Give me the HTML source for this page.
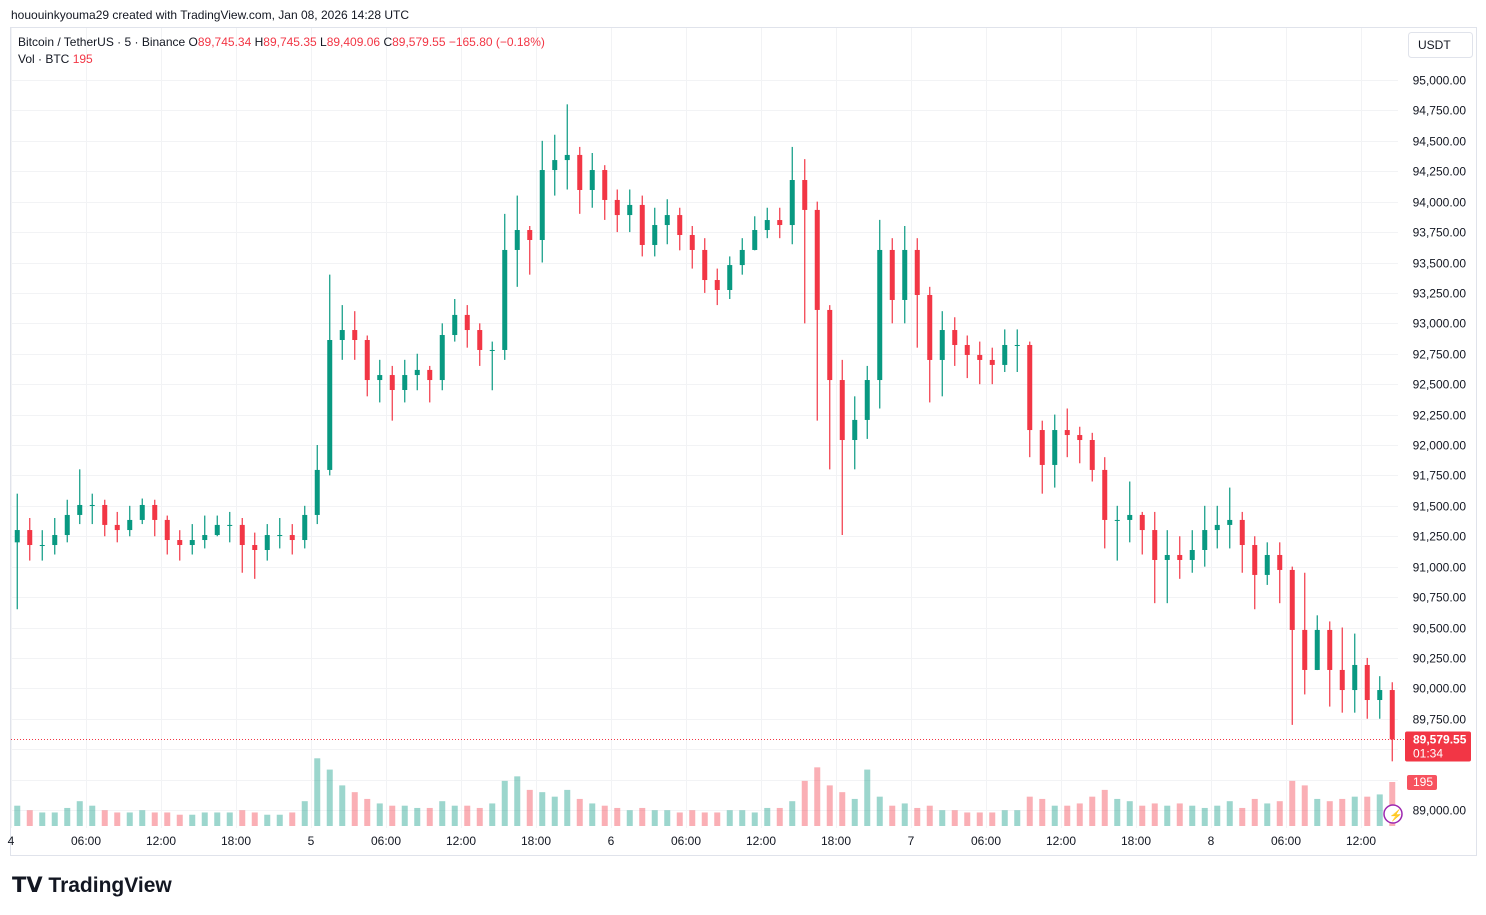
<!DOCTYPE html>
<html><head><meta charset="utf-8">
<style>
body{margin:0;background:#fff;font-family:"Liberation Sans",sans-serif;}
#wrap{position:relative;width:1486px;height:915px;overflow:hidden;background:#fff;}
svg text{font-family:"Liberation Sans",sans-serif;}
</style></head>
<body>
<div id="wrap">
<svg id="svg" width="1486" height="915" xmlns="http://www.w3.org/2000/svg">
<text x="11" y="19" font-size="12" fill="#131722">hououinkyouma29 created with TradingView.com, Jan 08, 2026 14:28 UTC</text>
<rect x="10.5" y="27.5" width="1466" height="828" fill="none" stroke="#e0e3eb"/>
<g id="grid"></g>
<g id="vol"></g>
<g id="candles"></g>
<g id="yaxis"></g>
<g id="xaxis"></g>
<text x="18" y="46" font-size="12" fill="#131722">Bitcoin / TetherUS · 5 · Binance <tspan fill="#131722">O</tspan><tspan fill="#f23645">89,745.34</tspan>  <tspan fill="#131722">H</tspan><tspan fill="#f23645">89,745.35</tspan>  <tspan fill="#131722">L</tspan><tspan fill="#f23645">89,409.06</tspan>  <tspan fill="#131722">C</tspan><tspan fill="#f23645">89,579.55  −165.80 (−0.18%)</tspan></text>
<text x="18" y="63" font-size="12" fill="#131722">Vol · BTC  <tspan fill="#f23645">195</tspan></text>
<rect x="1408.5" y="32.5" width="64" height="25" rx="3" fill="#fff" stroke="#e0e3eb"/>
<text x="1418" y="49" font-size="12" fill="#131722">USDT</text>
<text x="12" y="892" font-size="21" font-weight="bold" fill="#131722">𝗧𝗩 TradingView</text>
<circle cx="1393" cy="814" r="9" fill="#fff" stroke="#9c27b0" stroke-width="1.5"/>
<text x="1389" y="819" font-size="11" fill="#9c27b0">⚡</text>
</svg>
</div>
<script>
const closes=[91301,91178,91178,91260,91425,91507,91507,91343,91301,91384,91507,91384,91219,91178,91219,91260,91343,91343,91178,91137,91260,91260,91219,91425,
91795,92863,92945,92863,92534,92575,92452,92575,92617,92534,92904,93069,92945,92781,92781,93603,93767,93685,94260,94342,94384,94096,94260,94014,
93890,93973,93644,93808,93890,93726,93603,93356,93274,93479,93603,93767,93849,93808,94178,93932,93110,92534,92041,92206,92534,93603,93192,93603,
93233,92699,92945,92822,92740,92699,92658,92822,92822,92123,91836,92123,92082,92041,91795,91384,91384,91425,91301,91055,91096,91055,91137,91301,
91343,91384,91178,90932,91096,90973,90480,90151,90480,90151,89986,90192,89904,89986,89580];
const highs=[91600,91400,91300,91400,91550,91800,91600,91550,91450,91500,91560,91550,91420,91300,91350,91420,91420,91450,91400,91280,91350,91400,91350,91500,
92000,93400,93150,93100,92900,92700,92650,92700,92750,92650,93000,93200,93150,93000,92850,93900,94050,93800,94500,94550,94800,94450,94400,94300,
94100,94100,94050,93950,94020,93950,93800,93700,93450,93550,93700,93880,93950,93950,94450,94350,94000,93150,92700,92400,92650,93850,93700,93800,
93700,93300,93100,93050,92900,92850,92800,92950,92950,92850,92200,92250,92300,92150,92100,91900,91500,91700,91450,91450,91300,91250,91300,91500,
91500,91650,91450,91250,91200,91200,91000,90950,90600,90550,90500,90450,90250,90100,90050];
const lows=[90650,91050,91050,91100,91200,91350,91350,91250,91200,91250,91350,91250,91100,91050,91100,91150,91250,91200,90950,90900,91050,91150,91100,91150,
91350,91750,92700,92700,92400,92350,92200,92350,92450,92350,92450,92850,92800,92650,92450,92700,93300,93400,93500,94050,94100,93900,93950,93850,
93750,93750,93550,93550,93650,93600,93450,93250,93150,93200,93400,93600,93700,93700,93650,93000,92200,91800,91260,91800,92050,92300,93000,93000,
92800,92350,92400,92650,92550,92500,92500,92600,92600,91900,91600,91650,91900,91850,91700,91150,91050,91200,91100,90700,90700,90900,90950,91000,
91150,91150,90950,90650,90850,90700,89700,89950,90150,89850,89800,89800,89750,89750,89400];
const volumes=[90,70,60,60,80,110,90,70,60,60,70,60,60,50,50,60,60,60,70,60,50,50,60,110,
300,250,180,150,120,100,90,90,80,80,110,90,90,80,100,200,220,160,150,130,160,120,100,90,
80,70,80,70,70,60,70,60,60,70,70,60,80,80,110,200,260,180,150,120,250,130,90,100,
80,90,70,70,60,60,60,70,70,130,120,90,90,100,130,160,120,110,90,100,90,100,90,80,
90,110,80,120,100,110,200,180,120,110,120,130,130,140,195];
const firstOpen=91200;
const priceTicks=[95000,94750,94500,94250,94000,93750,93500,93250,93000,92750,92500,92250,92000,91750,91500,91250,91000,90750,90500,90250,90000,89750,89500,89250,89000];
const timeLabels=["4","06:00","12:00","18:00","5","06:00","12:00","18:00","6","06:00","12:00","18:00","7","06:00","12:00","18:00","8","06:00","12:00"];
const lastPrice=89579.55;

const NS="http://www.w3.org/2000/svg";
const yOf=p=>80+(95000-p)*730/6000;
const xOf=i=>11+12.5*i+6.25;
const vY=v=>826-v*44/195;
function mk(tag,attrs,parent){const e=document.createElementNS(NS,tag);for(const k in attrs)e.setAttribute(k,attrs[k]);parent.appendChild(e);return e;}
const grid=document.getElementById('grid'),yax=document.getElementById('yaxis'),xax=document.getElementById('xaxis');
priceTicks.forEach(p=>{
  const y=Math.round(yOf(p))+0.5;
  const l=mk('line',{x1:11,x2:1398,y1:y,y2:y,stroke:'#f2f3f5'},grid);
  
  
  if(p===89250||p===89500) return;
  const t=mk('text',{x:1466,y:y+4,'font-size':12,fill:'#131722','text-anchor':'end'},yax);
  t.textContent=p.toLocaleString('en-US',{minimumFractionDigits:2});
  
  
});
timeLabels.forEach((s,k)=>{
  const x=11+75*k;
  const l=mk('line',{x1:x+0.5,x2:x+0.5,y1:28,y2:828,stroke:'#f2f3f5'},grid);
  
  
  const t=mk('text',{x:x,y:845,'font-size':12,fill:'#131722','text-anchor':'middle'},xax);
  t.textContent=s;
  
  
});
const vg=document.getElementById('vol'),cg=document.getElementById('candles');
closes.forEach((c,i)=>{
  const o=i===0?firstOpen:closes[i-1];
  const up=c>=o;const col=up?'#089981':'#f23645';
  const x=xOf(i);
  const vb=mk('rect',{x:x-3,y:vY(volumes[i]),width:6,height:826-vY(volumes[i]),fill:up?'rgba(8,153,129,0.4)':'rgba(242,54,69,0.4)'},vg);
  
  
  const w=mk('line',{x1:x,x2:x,y1:yOf(highs[i]),y2:yOf(lows[i]),stroke:col,'stroke-width':1.2},cg);
  
  
  const top=yOf(Math.max(o,c)),bot=yOf(Math.min(o,c));
  const b=mk('rect',{x:x-2.5,y:top,width:5,height:Math.max(1,bot-top),fill:col},cg);
  
  
});
const ly=Math.round(yOf(lastPrice))+0.5;
const pl=mk('line',{x1:11,x2:1404,y1:ly,y2:ly,stroke:'#f23645','stroke-dasharray':'1 2'},yax);


const pb=mk('rect',{x:1405,y:ly-8,width:66,height:30,rx:2,fill:'#f23645'},yax);


const pt=mk('text',{x:1413,y:ly+4,'font-size':12,fill:'#fff','font-weight':'bold'},yax);
pt.textContent=lastPrice.toLocaleString('en-US',{minimumFractionDigits:2});


const ct=mk('text',{x:1413,y:ly+18,'font-size':12,fill:'#fff'},yax);
ct.textContent='01:34';


const vv=volumes[volumes.length-1];
const vbd=mk('rect',{x:1407,y:vY(vv)-7,width:30,height:15,rx:2,fill:'#f7525f'},yax);


const vt=mk('text',{x:1413,y:vY(vv)+4,'font-size':12,fill:'#fff'},yax);
vt.textContent=String(vv);


</script>
</body></html>
